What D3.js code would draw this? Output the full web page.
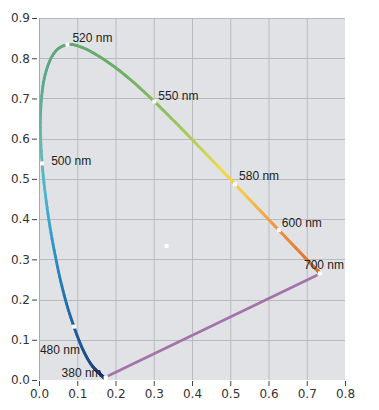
<!DOCTYPE html>
<html><head><meta charset="utf-8">
<script src="https://cdn.jsdelivr.net/npm/d3@7"></script>
<style>
html,body{margin:0;padding:0;background:#fff;}
svg{display:block;}
</style></head>
<body><svg id="c" width="379" height="410"></svg>
<script>
// Spectral locus (CIE 1931 2°), wavelength nm, x, y
const wavelengths = [380,385,390,395,400,405,410,415,420,425,430,435,440,445,450,455,460,465,470,475,480,485,490,495,500,505,510,515,520,525,530,535,540,545,550,555,560,565,570,575,580,585,590,595,600,605,610,615,620,625,630,635,640,645,650,655,660,665,670,675,680,685,690,695,700];
const xs = [0.1741,0.1740,0.1738,0.1736,0.1733,0.1730,0.1726,0.1721,0.1714,0.1703,0.1689,0.1669,0.1644,0.1611,0.1566,0.1510,0.1440,0.1355,0.1241,0.1096,0.0913,0.0687,0.0454,0.0235,0.0082,0.0039,0.0139,0.0389,0.0743,0.1142,0.1547,0.1929,0.2296,0.2658,0.3016,0.3373,0.3731,0.4087,0.4441,0.4788,0.5125,0.5448,0.5752,0.6029,0.6270,0.6482,0.6658,0.6801,0.6915,0.7006,0.7079,0.7140,0.7190,0.7230,0.7260,0.7283,0.7300,0.7311,0.7320,0.7327,0.7334,0.7340,0.7344,0.7346,0.7347];
const ys = [0.0050,0.0050,0.0049,0.0049,0.0048,0.0048,0.0048,0.0048,0.0051,0.0058,0.0069,0.0086,0.0109,0.0138,0.0177,0.0227,0.0297,0.0399,0.0578,0.0868,0.1327,0.2007,0.2950,0.4127,0.5384,0.6548,0.7502,0.8120,0.8338,0.8262,0.8059,0.7816,0.7543,0.7243,0.6923,0.6589,0.6245,0.5896,0.5547,0.5202,0.4866,0.4544,0.4242,0.3965,0.3725,0.3514,0.3340,0.3197,0.3083,0.2993,0.2920,0.2859,0.2809,0.2770,0.2740,0.2717,0.2700,0.2689,0.2680,0.2673,0.2666,0.2660,0.2656,0.2654,0.2653];
// Labelled wavelengths
const labelWl = [380,480,500,520,550,580,600,700];
const labelText = ["380 nm","480 nm","500 nm","520 nm","550 nm","580 nm","600 nm","700 nm"];
// Line of purples
const purpleX = [0.180,0.728];
const purpleY = [0.010,0.261];
// White point
const whiteX = [0.3333];
const whiteY = [0.3333];
// Axis ticks
const xTicks = [0,0.1,0.2,0.3,0.4,0.5,0.6,0.7,0.8];
const yTicks = [0,0.1,0.2,0.3,0.4,0.5,0.6,0.7,0.8,0.9];

// ---- styling / layout ----
const L = 39, R = 345, T = 18, B = 380;
const svg = d3.select("#c");
const x = d3.scaleLinear().domain([0,0.8]).range([L,R]);
const y = d3.scaleLinear().domain([0,0.9]).range([B,T]);
const colorStops = [[380,"#1b2b62"],[450,"#1c3a78"],[470,"#1e4e90"],[480,"#1f5d9e"],[487,"#2479b6"],[493,"#2f9ccc"],[497,"#49b6cc"],[502,"#66b8b0"],[510,"#5aa88a"],[520,"#5ea872"],[540,"#70b064"],[555,"#90c05e"],[566,"#bcd058"],[575,"#f0dc44"],[584,"#f4c848"],[592,"#f0ac48"],[600,"#e89242"],[620,"#e07c38"],[700,"#d56a30"]];
const col = d3.scaleLinear().domain(colorStops.map(d=>d[0])).range(colorStops.map(d=>d[1])).interpolate(d3.interpolateRgb);

svg.append("rect").attr("x",L).attr("y",T).attr("width",R-L).attr("height",B-T).attr("fill","#e1e2e5");
// grid
svg.append("g").selectAll("line").data(xTicks.filter(d=>d>0&&d<0.8)).join("line")
  .attr("x1",d=>x(d)+0.5).attr("x2",d=>x(d)+0.5).attr("y1",T).attr("y2",B).attr("stroke","#b9babd").attr("stroke-width",1);
svg.append("g").selectAll("line").data(yTicks.filter(d=>d>0)).join("line")
  .attr("y1",d=>Math.round(y(d))+0.5).attr("y2",d=>Math.round(y(d))+0.5).attr("x1",L).attr("x2",R).attr("stroke","#b9babd").attr("stroke-width",1);
svg.append("line").attr("x1",L+0.5).attr("x2",L+0.5).attr("y1",T).attr("y2",B).attr("stroke","#a8a9ac");

// axes
const fontAxis = "DejaVu Sans, sans-serif";
const ya = svg.append("g").attr("transform",`translate(${L-2},0)`).call(d3.axisLeft(y).tickValues(yTicks).tickFormat(d3.format(".1f")).tickSize(5).tickPadding(2));
ya.select(".domain").remove();
ya.selectAll("line").attr("stroke","#444");
ya.selectAll("text").attr("font-family",fontAxis).attr("font-size",12).attr("fill","#333");
const xa = svg.append("g").attr("transform",`translate(0,${B+1})`).call(d3.axisBottom(x).tickValues(xTicks).tickFormat(d3.format(".1f")).tickSize(5).tickPadding(3));
xa.select(".domain").remove();
xa.selectAll("line").attr("stroke","#444");
xa.selectAll("text").attr("font-family",fontAxis).attr("font-size",12).attr("fill","#333");

// purple line
svg.append("line").attr("x1",x(purpleX[0])).attr("y1",y(purpleY[0])).attr("x2",x(purpleX[1])).attr("y2",y(purpleY[1]))
  .attr("stroke","#a274a8").attr("stroke-width",2.6);

// locus: smooth (Catmull-Rom) sub-segments coloured by wavelength
const pts = wavelengths.map((w,i)=>({w,px:x(xs[i]),py:y(ys[i]),x:xs[i],y:ys[i]}));
const sub = [];
const N = 8;
for(let i=0;i<pts.length-1;i++){
  const p0=pts[Math.max(0,i-1)],p1=pts[i],p2=pts[i+1],p3=pts[Math.min(pts.length-1,i+2)];
  const cr=(a,b,c,d,t)=>0.5*((2*b)+(-a+c)*t+(2*a-5*b+4*c-d)*t*t+(-a+3*b-3*c+d)*t*t*t);
  for(let k=0;k<N;k++){
    const t0=k/N,t1=(k+1)/N;
    sub.push({
      x1:cr(p0.px,p1.px,p2.px,p3.px,t0),y1:cr(p0.py,p1.py,p2.py,p3.py,t0),
      x2:cr(p0.px,p1.px,p2.px,p3.px,t1),y2:cr(p0.py,p1.py,p2.py,p3.py,t1),
      w:p1.w+(p2.w-p1.w)*(t0+t1)/2
    });
  }
}
svg.append("g").selectAll("line").data(sub).join("line")
  .attr("x1",d=>d.x1).attr("y1",d=>d.y1).attr("x2",d=>d.x2).attr("y2",d=>d.y2)
  .attr("stroke",d=>col(d.w)).attr("stroke-width",2.8).attr("stroke-linecap","round");

// white markers
const lab = labelWl.map((w,i)=>{const p=pts.find(q=>q.w===w);return {w,t:labelText[i],x:p.x,y:p.y};});
svg.append("g").selectAll("rect").data(lab).join("rect")
  .attr("x",d=>x(d.x)-2).attr("y",d=>y(d.y)-2).attr("width",4).attr("height",4).attr("fill","#fff");
svg.append("circle").attr("cx",x(whiteX[0])).attr("cy",y(whiteY[0])).attr("r",2.3).attr("fill","#fff");

// labels
const off = {380:[-44,-1],480:[-34,27],500:[9,2],520:[5,-3],550:[4,-2],580:[4,-4],600:[3,-3],700:[-16,-4]};
svg.append("g").selectAll("text").data(lab).join("text")
  .attr("x",d=>x(d.x)+off[d.w][0]).attr("y",d=>y(d.y)+off[d.w][1])
  .attr("font-family","Liberation Sans, Arial, sans-serif").attr("font-size",12).attr("fill","#222")
  .text(d=>d.t);
</script></body></html>
